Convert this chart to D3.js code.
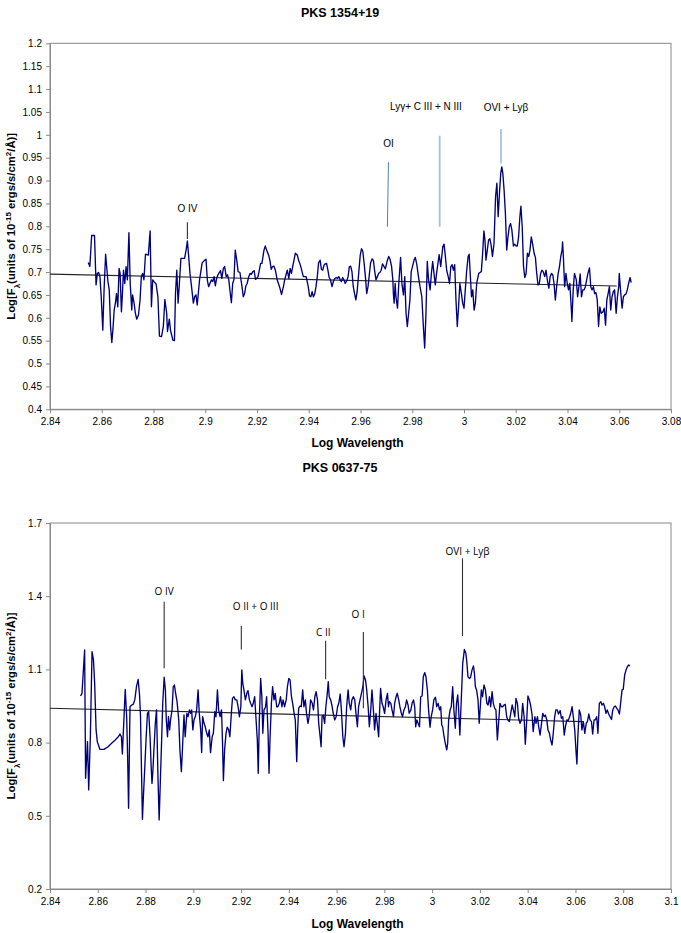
<!DOCTYPE html>
<html><head><meta charset="utf-8">
<script src="https://cdn.jsdelivr.net/npm/d3@7"></script>
<style>
body{margin:0;background:#fff}
svg{display:block}
text{font-family:"Liberation Sans",Arial,sans-serif;fill:#000}
</style>
</head><body>
<svg id="c" width="681" height="933"></svg>
<script>
// ---------------- DATA: PKS 1354+19 ----------------
const topSpectrum = [
[2.8548,0.721],[2.8554,0.712],[2.8561,0.780],[2.8572,0.780],[2.8578,0.672],[2.8583,0.697],[2.8588,0.699],[2.8593,0.690],[2.8598,0.646],[2.8604,0.573],
[2.8609,0.661],[2.8615,0.739],[2.8619,0.712],[2.8624,0.679],[2.8629,0.661],[2.8634,0.581],[2.8639,0.546],[2.8644,0.581],[2.8648,0.617],[2.8653,0.633],
[2.8657,0.653],[2.8662,0.624],[2.8667,0.708],[2.8671,0.697],[2.8676,0.613],[2.8680,0.653],[2.8684,0.704],[2.8689,0.675],[2.8694,0.712],[2.8699,0.683],
[2.8705,0.786],[2.8710,0.675],[2.8716,0.617],[2.8719,0.650],[2.8725,0.632],[2.8730,0.610],[2.8735,0.597],[2.8742,0.606],[2.8748,0.639],[2.8753,0.690],
[2.8758,0.697],[2.8763,0.683],[2.8769,0.739],[2.8780,0.737],[2.8787,0.790],[2.8792,0.624],[2.8797,0.683],[2.8802,0.679],[2.8810,0.674],[2.8817,0.646],
[2.8823,0.560],[2.8831,0.559],[2.8838,0.581],[2.8844,0.640],[2.8851,0.610],[2.8854,0.570],[2.8861,0.597],[2.8866,0.572],[2.8875,0.551],[2.8881,0.550],
[2.8885,0.653],[2.8890,0.704],[2.8895,0.632],[2.8900,0.675],[2.8906,0.730],[2.8913,0.730],[2.8920,0.730],[2.8926,0.748],[2.8931,0.768],[2.8936,0.734],
[2.8941,0.697],[2.8947,0.668],[2.8954,0.632],[2.8959,0.646],[2.8964,0.650],[2.8969,0.628],[2.8978,0.683],[2.8988,0.720],[2.8996,0.725],[2.9003,0.728],
[2.9008,0.683],[2.9013,0.668],[2.9018,0.675],[2.9024,0.683],[2.9029,0.679],[2.9034,0.690],[2.9039,0.670],[2.9044,0.686],[2.9049,0.694],[2.9059,0.703],
[2.9064,0.686],[2.9070,0.708],[2.9075,0.712],[2.9081,0.690],[2.9086,0.694],[2.9091,0.683],[2.9096,0.657],[2.9101,0.633],[2.9106,0.675],[2.9111,0.684],
[2.9116,0.748],[2.9122,0.725],[2.9127,0.701],[2.9134,0.699],[2.9142,0.668],[2.9147,0.646],[2.9152,0.653],[2.9157,0.670],[2.9162,0.675],[2.9167,0.688],
[2.9173,0.697],[2.9178,0.695],[2.9184,0.701],[2.9189,0.703],[2.9194,0.684],[2.9199,0.686],[2.9204,0.690],[2.9209,0.704],[2.9214,0.719],[2.9219,0.719],
[2.9227,0.748],[2.9232,0.757],[2.9237,0.748],[2.9245,0.737],[2.9250,0.725],[2.9255,0.706],[2.9260,0.712],[2.9265,0.713],[2.9271,0.704],[2.9278,0.683],
[2.9287,0.668],[2.9295,0.651],[2.9302,0.668],[2.9307,0.683],[2.9312,0.694],[2.9317,0.704],[2.9323,0.686],[2.9328,0.708],[2.9333,0.697],[2.9338,0.712],
[2.9343,0.726],[2.9348,0.741],[2.9356,0.737],[2.9361,0.725],[2.9366,0.718],[2.9371,0.708],[2.9379,0.690],[2.9390,0.690],[2.9398,0.668],[2.9403,0.648],
[2.9408,0.646],[2.9413,0.657],[2.9418,0.646],[2.9423,0.652],[2.9428,0.668],[2.9433,0.690],[2.9438,0.720],[2.9444,0.726],[2.9449,0.706],[2.9454,0.704],
[2.9459,0.715],[2.9464,0.718],[2.9469,0.719],[2.9474,0.704],[2.9479,0.688],[2.9484,0.683],[2.9490,0.668],[2.9496,0.681],[2.9501,0.686],[2.9506,0.688],
[2.9511,0.686],[2.9516,0.690],[2.9521,0.684],[2.9526,0.679],[2.9531,0.688],[2.9536,0.683],[2.9541,0.675],[2.9547,0.681],[2.9552,0.690],[2.9557,0.712],
[2.9562,0.713],[2.9567,0.701],[2.9572,0.668],[2.9577,0.653],[2.9582,0.639],[2.9587,0.657],[2.9593,0.697],[2.9599,0.737],[2.9604,0.751],[2.9609,0.745],
[2.9614,0.719],[2.9619,0.690],[2.9624,0.653],[2.9629,0.668],[2.9634,0.694],[2.9639,0.720],[2.9645,0.729],[2.9650,0.725],[2.9655,0.701],[2.9660,0.683],
[2.9665,0.690],[2.9670,0.697],
[2.9675,0.699],[2.9680,0.704],[2.9685,0.718],[2.9691,0.712],[2.9696,0.707],[2.9704,0.726],[2.9709,0.734],[2.9714,0.728],[2.9720,0.713],[2.9725,0.683],
[2.9727,0.653],[2.9730,0.632],[2.9734,0.675],[2.9737,0.646],[2.9743,0.621],[2.9748,0.675],[2.9755,0.732],[2.9760,0.675],[2.9766,0.650],[2.9771,0.690],
[2.9776,0.610],[2.9781,0.581],[2.9786,0.610],[2.9791,0.639],[2.9796,0.701],[2.9807,0.726],[2.9812,0.732],[2.9818,0.715],[2.9824,0.690],[2.9830,0.668],
[2.9837,0.646],[2.9843,0.581],[2.9848,0.534],[2.9853,0.610],[2.9858,0.723],[2.9863,0.683],[2.9869,0.661],[2.9874,0.697],[2.9879,0.723],[2.9884,0.697],
[2.9889,0.672],[2.9894,0.697],[2.9899,0.718],[2.9904,0.738],[2.9910,0.712],[2.9918,0.755],[2.9923,0.761],[2.9928,0.734],[2.9933,0.704],[2.9939,0.690],
[2.9944,0.675],[2.9949,0.712],[2.9954,0.716],[2.9959,0.704],[2.9964,0.716],[2.9969,0.639],[2.9974,0.581],[2.9979,0.624],[2.9984,0.675],[2.9990,0.653],
[2.9995,0.632],[3.0000,0.621],[3.0005,0.661],[3.0010,0.701],[3.0016,0.734],[3.0020,0.739],[3.0024,0.697],[3.0029,0.646],[3.0034,0.661],[3.0039,0.617],
[3.0044,0.632],[3.0049,0.675],[3.0057,0.697],[3.0062,0.699],[3.0067,0.701],[3.0072,0.741],[3.0077,0.790],[3.0081,0.770],[3.0085,0.726],[3.0090,0.748],
[3.0095,0.770],[3.0100,0.773],[3.0105,0.758],[3.0110,0.734],[3.0116,0.763],[3.0122,0.865],[3.0127,0.894],[3.0132,0.821],[3.0137,0.872],[3.0142,0.916],
[3.0146,0.930],[3.0150,0.916],[3.0155,0.879],[3.0160,0.828],[3.0165,0.748],[3.0170,0.777],[3.0175,0.799],[3.0180,0.806],[3.0185,0.792],[3.0191,0.757],
[3.0196,0.761],[3.0201,0.757],[3.0206,0.757],[3.0211,0.777],[3.0216,0.821],[3.0220,0.844],[3.0225,0.799],[3.0230,0.712],[3.0235,0.688],[3.0240,0.697],
[3.0245,0.741],[3.0250,0.734],[3.0255,0.748],[3.0260,0.777],[3.0266,0.759],[3.0271,0.741],[3.0276,0.732],[3.0281,0.697],[3.0286,0.672],[3.0291,0.674],
[3.0296,0.697],[3.0301,0.704],[3.0306,0.701],[3.0312,0.690],[3.0317,0.704],[3.0322,0.683],[3.0328,0.665],[3.0333,0.690],[3.0338,0.697],[3.0343,0.694],
[3.0348,0.675],[3.0353,0.639],[3.0358,0.668],[3.0364,0.697],[3.0369,0.712],[3.0374,0.734],[3.0379,0.748],[3.0381,0.766],[3.0384,0.734],[3.0389,0.668],
[3.0394,0.697],[3.0399,0.675],[3.0404,0.661],[3.0409,0.675],[3.0415,0.617],[3.0417,0.592],[3.0422,0.661],[3.0427,0.697],[3.0434,0.683],[3.0439,0.646],
[3.0444,0.668],[3.0449,0.696],[3.0454,0.646],[3.0459,0.661],[3.0464,0.661],[3.0469,0.668],[3.0474,0.683],[3.0479,0.697],[3.0485,0.709],[3.0490,0.668],
[3.0495,0.661],[3.0500,0.668],[3.0505,0.653],[3.0510,0.655],[3.0515,0.639],[3.0520,0.581],[3.0525,0.624],[3.0530,0.610],[3.0537,0.613],[3.0542,0.621],
[3.0547,0.584],[3.0552,0.639],[3.0557,0.653],[3.0562,0.668],[3.0567,0.617],[3.0572,0.646],[3.0577,0.657],[3.0582,0.661],[3.0588,0.610],[3.0593,0.646],
[3.0598,0.668],[3.0600,0.697],[3.0606,0.653],[3.0611,0.621],[3.0616,0.646],[3.0621,0.650],[3.0626,0.652],[3.0631,0.661],[3.0636,0.675],[3.0642,0.688],
[3.0646,0.677]
];
const topFitWave = [2.84, 3.0590];
const topFitFlux = [0.6955, 0.6695];
const topXTicks = [2.84,2.86,2.88,2.9,2.92,2.94,2.96,2.98,3,3.02,3.04,3.06,3.08];
const topYTicks = [0.4,0.45,0.5,0.55,0.6,0.65,0.7,0.75,0.8,0.85,0.9,0.95,1,1.05,1.1,1.15,1.2];
// emission-line markers
const topLineNames  = ["O IV", "OI", "Ly\u03b3+ C III + N III", "OVI + Ly\u03b2"];
const topLineWave0  = [2.8931, 2.9704, 2.9906, 3.0143];
const topLineWave1  = [2.8931, 2.9708, 2.9906, 3.0143];
const topLineFlux0  = [0.7722, 0.7991, 0.7991, 0.9377];
const topLineFlux1  = [0.8086, 0.9399, 0.998, 1.0127];
const topLabelWave  = [2.8931, 2.9708, 2.9853, 3.0162];
const topLabelFlux  = [0.8393, 0.9814, 1.0614, 1.0601];
const topLineColor  = ["#303030", "#4a7ebb", "#a6c2e2", "#a6c2e2"];
const topLineWidth  = [1.1, 1, 1.8, 1.8];

// ---------------- DATA: PKS 0637-75 ----------------
const botSpectrum = [
[2.8528,0.991],[2.8534,1.002],[2.8539,1.084],[2.8545,1.180],[2.8549,0.654],[2.8557,0.804],[2.8562,0.606],[2.8569,0.824],[2.8576,1.173],[2.8582,1.139],
[2.8587,1.043],[2.8593,0.852],[2.8598,0.804],[2.8609,0.772],[2.8626,0.772],[2.8643,0.783],[2.8658,0.797],[2.8673,0.811],[2.8686,0.824],[2.8693,0.835],
[2.8699,0.824],[2.8703,0.753],[2.8709,0.886],[2.8715,1.018],[2.8721,0.906],[2.8725,0.742],[2.8729,0.531],[2.8735,0.947],[2.8742,0.954],[2.8749,0.958],
[2.8755,0.975],[2.8762,1.029],[2.8769,1.059],[2.8775,0.995],[2.8779,0.906],[2.8783,0.688],[2.8787,0.486],[2.8791,0.578],[2.8797,0.701],[2.8802,0.811],
[2.8808,0.920],[2.8813,0.927],[2.8819,0.824],[2.8823,0.715],[2.8827,0.633],[2.8831,0.688],[2.8835,0.770],[2.8841,0.879],[2.8846,0.934],[2.8852,0.660],
[2.8857,0.483],[2.8863,0.674],[2.8867,0.797],[2.8872,0.961],[2.8878,1.068],[2.8883,1.016],[2.8887,0.893],[2.8892,0.824],[2.8896,0.906],[2.8901,0.852],
[2.8905,0.895],[2.8911,0.934],[2.8916,1.029],[2.8921,1.036],[2.8926,1.002],[2.8932,0.968],[2.8939,0.893],[2.8944,0.770],[2.8950,0.681],[2.8955,0.783],
[2.8961,0.913],[2.8966,0.824],[2.8973,0.920],[2.8978,0.906],[2.8984,0.934],[2.8989,0.920],[2.8993,0.934],[2.8998,0.852],[2.9003,0.893],[2.9009,0.909],
[2.9014,0.934],[2.9020,1.016],[2.9025,0.920],[2.9031,0.852],[2.9035,0.759],[2.9039,0.906],[2.9045,0.879],[2.9050,0.865],[2.9056,0.838],[2.9061,0.824],
[2.9067,0.852],[2.9072,0.759],[2.9079,0.824],[2.9084,0.838],[2.9090,0.927],[2.9095,0.906],[2.9101,1.016],[2.9106,0.934],[2.9112,0.906],[2.9118,0.934],
[2.9122,0.811],[2.9126,0.644],[2.9131,0.770],[2.9137,0.838],[2.9142,0.863],[2.9148,0.852],[2.9153,0.824],[2.9160,0.931],[2.9164,0.981],[2.9170,0.988],
[2.9176,0.975],[2.9182,0.975],[2.9188,0.945],[2.9193,0.906],[2.9199,0.947],[2.9203,1.098],[2.9207,1.043],[2.9212,1.016],[2.9218,0.975],[2.9224,1.002],
[2.9229,1.013],[2.9235,0.975],[2.9240,0.961],[2.9246,0.947],[2.9251,0.961],[2.9257,0.988],[2.9262,0.906],[2.9268,0.811],[2.9272,0.674],[2.9276,0.879],
[2.9282,1.063],[2.9287,0.988],[2.9291,0.838],[2.9296,0.934],[2.9302,0.945],[2.9307,0.988],[2.9313,0.838],[2.9317,0.674],[2.9321,0.811],[2.9327,0.961],
[2.9332,1.029],[2.9338,0.975],[2.9343,1.002],[2.9349,0.947],[2.9354,0.947],[2.9360,0.961],[2.9365,0.988],[2.9371,0.947],[2.9376,0.975],[2.9382,0.947],
[2.9389,0.975],[2.9394,1.029],[2.9400,1.063],[2.9405,1.057],[2.9411,0.988],[2.9416,0.961],[2.9422,0.920],[2.9427,0.893],[2.9433,0.722],[2.9437,0.852],
[2.9441,0.940],[2.9447,0.950],[2.9452,0.947],[2.9458,1.016],[2.9463,0.947],[2.9469,0.975],[2.9474,0.920],[2.9480,0.879],[2.9485,0.906],[2.9491,0.975],
[2.9498,0.961],[2.9503,0.934],[2.9509,0.988],[2.9514,1.009],[2.9520,0.975],[2.9525,0.879],[2.9531,0.824],[2.9535,0.783],[2.9539,0.906],[2.9544,0.913],
[2.9550,0.879],[2.9555,0.947],[2.9561,1.002],[2.9565,1.050],[2.9569,0.988],[2.9575,0.975],[2.9580,0.954],[2.9586,0.920],[2.9592,0.893],[2.9598,0.906],
[2.9604,0.947],[2.9609,0.961],[2.9615,0.999],[2.9620,0.934],[2.9626,0.824],[2.9631,0.783],[2.9637,0.838],[2.9642,0.947],[2.9648,1.016],[2.9653,0.961],
[2.9659,0.934],[2.9664,0.975],[2.9670,0.988],[2.9676,0.975],[2.9681,0.920],[2.9687,0.865],[2.9692,0.947],[2.9698,0.975],[2.9704,1.002],[2.9710,1.029],
[2.9715,1.073],[2.9721,1.057],[2.9726,1.016],[2.9732,0.947],[2.9737,0.865],[2.9743,0.934],[2.9748,1.016],[2.9754,0.934],[2.9759,0.852],[2.9765,0.920],
[2.9770,0.879],[2.9776,0.824],[2.9779,0.906],
[2.9784,1.022],[2.9790,0.961],[2.9795,0.947],[2.9801,0.920],[2.9807,0.975],[2.9813,1.002],[2.9817,0.947],[2.9821,0.968],[2.9827,0.961],[2.9832,0.934],
[2.9838,0.906],[2.9843,0.961],[2.9849,0.988],[2.9854,1.002],[2.9860,0.975],[2.9865,0.947],[2.9871,0.920],[2.9876,0.906],[2.9882,0.934],[2.9888,0.947],
[2.9893,0.975],[2.9899,0.954],[2.9904,0.920],[2.9911,0.934],[2.9916,0.961],[2.9922,0.975],[2.9927,0.945],[2.9931,0.865],[2.9936,0.893],[2.9941,0.879],
[2.9947,0.865],[2.9952,0.988],[2.9958,0.991],[2.9963,1.070],[2.9969,1.087],[2.9974,1.070],[2.9980,1.016],[2.9985,0.934],[2.9991,0.863],[2.9996,0.906],
[3.0002,0.934],[3.0007,0.975],[3.0014,0.986],[3.0019,0.947],[3.0025,0.961],[3.0031,0.934],[3.0036,0.947],[3.0040,0.872],[3.0044,0.865],[3.0050,0.824],
[3.0055,0.797],[3.0061,0.770],[3.0065,0.797],[3.0069,0.893],[3.0075,0.934],[3.0080,0.947],[3.0086,1.029],[3.0091,0.934],[3.0097,0.859],[3.0102,0.961],
[3.0107,0.995],[3.0111,0.934],[3.0116,0.831],[3.0123,1.002],[3.0128,1.125],[3.0135,1.182],[3.0141,1.166],[3.0145,1.132],[3.0150,1.070],[3.0156,1.063],
[3.0161,1.068],[3.0167,1.098],[3.0173,1.114],[3.0177,1.084],[3.0181,1.029],[3.0186,1.016],[3.0192,0.975],[3.0197,0.879],[3.0202,0.954],[3.0206,1.016],
[3.0211,0.988],[3.0217,1.036],[3.0223,1.016],[3.0229,0.961],[3.0234,0.954],[3.0240,0.988],[3.0245,0.947],[3.0251,1.009],[3.0256,0.961],[3.0262,0.940],
[3.0267,0.934],[3.0273,0.811],[3.0279,0.893],[3.0284,0.961],[3.0290,0.947],[3.0295,0.947],[3.0301,0.954],[3.0306,0.957],[3.0312,0.906],[3.0317,0.893],
[3.0323,0.886],[3.0329,0.920],[3.0335,0.954],[3.0340,0.934],[3.0346,0.906],[3.0351,0.981],[3.0357,0.961],[3.0362,0.900],[3.0368,0.879],[3.0374,0.893],
[3.0379,0.961],[3.0385,0.906],[3.0390,0.793],[3.0396,0.893],[3.0401,0.991],[3.0407,0.975],[3.0412,0.954],[3.0418,0.917],[3.0423,0.845],[3.0430,0.906],
[3.0435,0.879],[3.0441,0.906],[3.0446,0.865],[3.0452,0.831],[3.0458,0.879],[3.0463,0.920],[3.0469,0.906],[3.0474,0.913],[3.0480,0.893],[3.0485,0.852],
[3.0491,0.838],[3.0496,0.811],[3.0502,0.790],[3.0507,0.838],[3.0513,0.906],[3.0518,0.934],[3.0524,0.934],[3.0529,0.917],[3.0536,0.931],[3.0541,0.900],
[3.0547,0.906],[3.0553,0.831],[3.0558,0.865],[3.0564,0.893],[3.0569,0.890],[3.0575,0.904],[3.0580,0.920],[3.0586,0.947],[3.0591,0.906],[3.0597,0.852],
[3.0602,0.770],[3.0606,0.712],[3.0610,0.824],[3.0616,0.934],[3.0622,0.913],[3.0627,0.852],[3.0633,0.886],[3.0639,0.838],[3.0645,0.879],[3.0650,0.886],
[3.0656,0.917],[3.0661,0.893],[3.0667,0.886],[3.0672,0.835],[3.0678,0.893],[3.0683,0.893],[3.0689,0.906],[3.0694,0.838],[3.0700,0.961],[3.0706,0.968],
[3.0711,0.954],[3.0717,0.961],[3.0722,0.947],[3.0728,0.920],[3.0733,0.934],[3.0739,0.917],[3.0745,0.906],[3.0751,0.895],[3.0756,0.934],[3.0762,0.947],
[3.0767,0.950],[3.0773,0.940],[3.0778,0.934],[3.0784,0.917],[3.0789,0.961],[3.0795,1.016],[3.0800,1.018],[3.0806,1.077],[3.0812,1.098],[3.0817,1.111],
[3.0823,1.118],[3.0828,1.114]
];
const botFitWave = [2.84, 3.0633];
const botFitFlux = [0.941, 0.886];
const botXTicks = [2.84,2.86,2.88,2.9,2.92,2.94,2.96,2.98,3,3.02,3.04,3.06,3.08,3.1];
const botYTicks = [0.2,0.5,0.8,1.1,1.4,1.7];
const botLineNames = ["O IV", "O II + O III", "C II", "O I", "OVI + Ly\u03b2"];
const botLineWave  = [2.8878, 2.9201, 2.9554, 2.9712, 3.0127];
const botLineFlux0 = [1.1045, 1.182, 1.0594, 0.9406, 1.2369];
const botLineFlux1 = [1.3775, 1.278, 1.2176, 1.253, 1.5553];
const botLabelWave = [2.8878, 2.9261, 2.9544, 2.9690, 3.0148];
const botLabelFlux = [1.4213, 1.357, 1.2504, 1.323, 1.5824];

// ---------------- DRAWING ----------------
const svg = d3.select("#c");
const fmt = d3.format("~g");

function drawChart(o){
  const g = svg.append("g");
  const x = d3.scaleLinear().domain(o.xDomain).range([o.left, o.right]);
  const y = d3.scaleLinear().domain(o.yDomain).range([o.bottom, o.top]);

  g.append("text").attr("x", 340).attr("y", o.titleY).attr("text-anchor","middle")
    .style("font-weight","bold").style("font-size","12.5px").text(o.title);

  g.append("rect").attr("x", o.left).attr("y", o.top)
    .attr("width", o.right-o.left).attr("height", o.bottom-o.top)
    .attr("fill","none").attr("stroke","#888").attr("stroke-width",1);

  const ax = g.append("g").attr("transform",`translate(0,${o.bottom})`)
    .call(d3.axisBottom(x).tickValues(o.xTicks).tickFormat(fmt).tickSize(4).tickSizeOuter(0).tickPadding(5));
  const ay = g.append("g").attr("transform",`translate(${o.left},0)`)
    .call(d3.axisLeft(y).tickValues(o.yTicks).tickFormat(fmt).tickSize(4).tickSizeOuter(0).tickPadding(4));
  [ax, ay].forEach(a=>{
    a.select(".domain").attr("stroke","#888");
    a.selectAll(".tick line").attr("stroke","#888");
    a.selectAll(".tick text").style("font-size","10px").style("font-family","'Liberation Sans',Arial,sans-serif").attr("fill","#000");
  });

  g.append("text").attr("x", (o.left+o.right)/2 - 3).attr("y", o.xTitleY).attr("text-anchor","middle")
    .style("font-weight","bold").style("font-size","12px").text("Log Wavelength");
  const yt = g.append("text").attr("transform",`translate(${15},${(o.top+o.bottom)/2}) rotate(-90)`)
    .attr("text-anchor","middle").style("font-weight","bold").style("font-size","11.3px");
  yt.append("tspan").text("Log[F");
  yt.append("tspan").attr("baseline-shift","sub").style("font-size","8px").text("\u03bb");
  yt.append("tspan").text("(units of 10");
  yt.append("tspan").attr("baseline-shift","super").style("font-size","8px").text("-15");
  yt.append("tspan").text(" ergs/s/cm");
  yt.append("tspan").attr("baseline-shift","super").style("font-size","8px").text("2");
  yt.append("tspan").text("/\u00c5)]");

  g.append("line")
    .attr("x1", x(o.fitWave[0])).attr("y1", y(o.fitFlux[0]))
    .attr("x2", x(o.fitWave[1])).attr("y2", y(o.fitFlux[1]))
    .attr("stroke","#222").attr("stroke-width",1.1);

  const line = d3.line().x(d=>x(d[0])).y(d=>y(d[1]));
  g.append("path").datum(o.spectrum).attr("d", line)
    .attr("fill","none").attr("stroke","#00007f").attr("stroke-width",1.35).attr("stroke-linejoin","round");

  o.markers.forEach(m=>{
    g.append("line").attr("x1", x(m.w0)).attr("x2", x(m.w1))
      .attr("y1", y(m.f0)).attr("y2", y(m.f1))
      .attr("stroke", m.color).attr("stroke-width", m.width);
    g.append("text").attr("x", x(m.lw)).attr("y", y(m.lf)).attr("dy","0.35em")
      .attr("text-anchor","middle").style("font-size","10px")
      .style("font-family", m.font).attr("fill","#222").text(m.name);
  });
}

drawChart({
  title:"PKS 1354+19", titleY:17,
  left:50, right:671, top:43.3, bottom:409.3, xTitleY:447,
  xDomain:[2.84,3.08], yDomain:[0.4,1.2],
  xTicks:topXTicks, yTicks:topYTicks,
  spectrum:topSpectrum, fitWave:topFitWave, fitFlux:topFitFlux,
  markers: topLineNames.map((n,i)=>({name:n, w0:topLineWave0[i], w1:topLineWave1[i],
    f0:topLineFlux0[i], f1:topLineFlux1[i], lw:topLabelWave[i], lf:topLabelFlux[i],
    color:topLineColor[i], width:topLineWidth[i], font:"'Liberation Sans',Arial,sans-serif"}))
});

drawChart({
  title:"PKS 0637-75", titleY:472,
  left:50, right:671, top:523, bottom:889, xTitleY:928,
  xDomain:[2.84,3.1], yDomain:[0.2,1.7],
  xTicks:botXTicks, yTicks:botYTicks,
  spectrum:botSpectrum, fitWave:botFitWave, fitFlux:botFitFlux,
  markers: botLineNames.map((n,i)=>({name:n, w0:botLineWave[i], w1:botLineWave[i],
    f0:botLineFlux0[i], f1:botLineFlux1[i], lw:botLabelWave[i], lf:botLabelFlux[i],
    color:"#303030", width:1.1, font:"'Open Sans','Liberation Sans',Arial,sans-serif"}))
});
</script>
</body></html>
